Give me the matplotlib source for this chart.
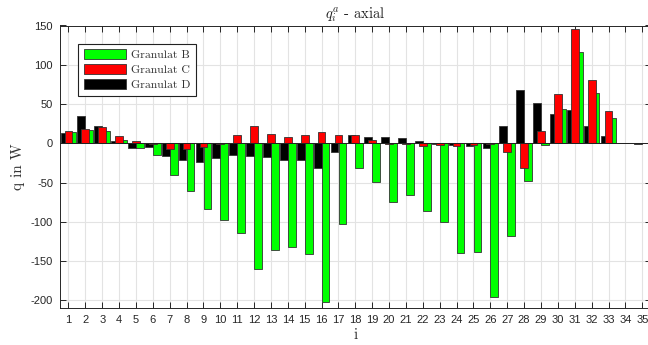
import matplotlib
matplotlib.use("Agg")
import matplotlib.pyplot as plt
import numpy as np

plt.rcParams["mathtext.fontset"] = "cm"
plt.rcParams["axes.unicode_minus"] = False
plt.rcParams["axes.formatter.use_mathtext"] = False

# heat flow per segment i
idx = np.arange(1, 36)
granulat_b = [14.4, 16.5, 15.6, 4.2, -5.7, -15, -40.5, -60.6, -83, -97.5,
              -114, -160, -136, -132, -141, -202, -103, -31.8, -48.8, -74.2,
              -66.2, -86.5, -99.7, -140, -138.7, -196, -117.5, -47.5, -2.5, 44.3,
              115.8, 64.5, 32.2, 0, 0]
granulat_c = [15.6, 18, 20.7, 9.5, 2.5, -1, -7.6, -6.8, -4.5, -1,
              10.8, 21.8, 12, 7.6, 10, 14.4, 11.2, 11.2, 4, -1,
              -1, -3, -2.1, -3, -2.2, -1, -10.6, -31.8, 15.7, 63.2,
              145, 80.6, 40.7, 0, 0]
granulat_d = [12.7, 34.7, 22, 2.5, -5.5, -4.2, -16.5, -21.2, -24.2, -19.1,
              -14.4, -15.7, -17.8, -21.6, -21.2, -31, -11, 10.6, 7.6, 7.6,
              6.4, 3, -1, -2, -3, -5.5, 22, 67.9, 51.7, 37.3,
              42.4, 22.7, 9.8, 0.8, -0.8]

y_ticks = [-200, -150, -100, -50, 0, 50, 100, 150]

W, H = 648, 345
fig = plt.figure(figsize=(W / 100, H / 100), dpi=100)
ax = fig.add_axes([60 / W, 1 - 308.3 / H, 590.7 / W, 282.8 / H])

bw = 0.46
edge = dict(edgecolor="#333333", linewidth=0.6, zorder=3)
hb = ax.bar(idx + 0.235, granulat_b, bw, color="#00ff00", label="Granulat B", **edge)
hd = ax.bar(idx - 0.235, granulat_d, bw, color="#000000", label="Granulat D", **edge)
hc = ax.bar(idx, granulat_c, bw, color="#ff0000", label="Granulat C", **edge)
ax.axhline(0, color="#222222", linewidth=0.7, zorder=4)

ax.set_xlim(0.5, 35.5)
ax.set_ylim(-210, 150)
ax.set_xticks(idx)
ax.set_yticks(y_ticks)
ax.grid(True, color="#e3e3e3", linewidth=0.8, zorder=0)
ax.set_axisbelow(True)
ax.tick_params(direction="in", top=True, right=True, length=4, width=0.7,
               colors="#262626", labelsize=8, pad=5)
for lab in ax.get_xticklabels() + ax.get_yticklabels():
    lab.set_family("Liberation Sans")
for sp in ax.spines.values():
    sp.set_color("#262626")
    sp.set_linewidth(0.7)

serif = "cmr10"
ax.set_title(r"$q_i^a$ - axial", fontsize=10.5, family=serif, pad=5, color="#222222")
ax.set_ylabel("q in W", fontsize=11, family=serif, labelpad=4, color="#333333")
ax.set_xlabel("i", fontsize=11, family=serif, labelpad=2, color="#333333")

leg = ax.legend([hb, hc, hd], ["Granulat B", "Granulat C", "Granulat D"],
                loc="upper left", bbox_to_anchor=(0.031, 0.935), borderaxespad=0,
                prop={"family": serif, "size": 8.5}, fancybox=False, framealpha=1,
                edgecolor="#222222", handlelength=3.6, handleheight=0.9,
                labelspacing=0.35, handletextpad=0.4, borderpad=0.45)
leg.get_frame().set_linewidth(0.8)
for t in leg.get_texts():
    t.set_color("#333333")

fig.savefig("out.png", dpi=100)
